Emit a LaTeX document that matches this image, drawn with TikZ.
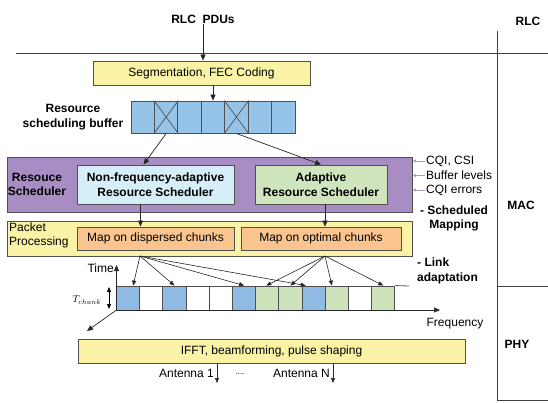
\documentclass[tikz,border=0pt]{standalone}
\usepackage{fontspec}
\setmainfont{Liberation Sans}
\usetikzlibrary{arrows.meta,calc}
\definecolor{edge}{RGB}{80,80,80}
\definecolor{yel}{RGB}{250,242,165}
\definecolor{bufblue}{RGB}{150,195,232}
\definecolor{purp}{RGB}{168,140,196}
\definecolor{ltblue}{RGB}{214,238,248}
\definecolor{ltgreen}{RGB}{208,228,190}
\definecolor{orng}{RGB}{250,196,142}
\definecolor{cb}{RGB}{142,186,228}
\definecolor{cg}{RGB}{206,226,188}
\definecolor{cqicol}{RGB}{175,155,195}
\begin{document}
\begin{tikzpicture}[x=1pt,y=-1pt,
  font=\fontsize{12}{14.5}\selectfont,
  box/.style={draw=edge, line width=0.9pt, inner sep=0pt, align=center},
  arr/.style={-{Triangle[length=6pt,width=5pt]}, line width=0.7pt, draw=black!85},
  thinarr/.style={-{Triangle[length=5pt,width=4pt]}, line width=0.6pt, draw=black!85},
  cqiarr/.style={-{Triangle[length=3.5pt,width=3pt]}, line width=0.6pt, draw=cqicol, fill=cqicol},
  rule/.style={line width=0.8pt, draw=black!75},
  lbl/.style={font=\fontsize{12}{14.5}\selectfont\bfseries, align=center, inner sep=1pt},
  plain/.style={inner sep=1pt}]
\useasboundingbox[fill=white] (0,0) rectangle (548,402);

% layer rules
\coordinate (h1a) at (16,53);
\coordinate (h1b) at (548,53);
\coordinate (v1) at (497,31);
\coordinate (v2) at (497,400);
\coordinate (h2a) at (497,286);
\coordinate (h2b) at (548,286);
\coordinate (h3a) at (497,400);
\coordinate (h3b) at (548,400);
\draw[rule] (h1a) -- (h1b);
\draw[rule] (v1) -- (v2);
\draw[rule] (h2a) -- (h2b);
\draw[rule] (h3a) -- (h3b);

\node[lbl] (rlc) at (528,21) {RLC};
\node[lbl] (mac) at (521,205) {MAC};
\node[lbl] (phy) at (517,344) {PHY};

% RLC PDUs and segmentation
\node[lbl] (pdu) at (203,19) {RLC\ \ PDUs};
\node[box, fill=yel, minimum width=217pt, minimum height=24pt] (seg) at (201.5,73) {Segmentation, FEC Coding};
\draw[arr] (pdu.south) -- (pdu.south |- seg.north);

% buffer
\foreach \i in {1,...,7}{
  \pgfmathsetmacro{\cx}{131+(\i-0.5)*23.43}
  \node[box, fill=bufblue, minimum width=23.43pt, minimum height=32pt] (b\i) at (\cx,117) {};
}
\foreach \i in {2,5}{
  \draw[line width=0.7pt, draw=edge] (b\i.north west) -- (b\i.south east);
  \draw[line width=0.7pt, draw=edge] (b\i.north east) -- (b\i.south west);
}
\draw[arr] (b4.north |- seg.south) -- (b4.north);
\node[lbl] (buflbl) at (73,117) {Resource\\scheduling buffer};

% resource scheduler
\node[box, fill=purp, minimum width=405pt, minimum height=55pt] (rs) at (209.5,184.5) {};
\node[lbl] (rslbl) at (37,184.5) {Resouce\\Scheduler};
\node[box, fill=ltblue, minimum width=157pt, minimum height=39pt, font=\fontsize{12}{14.5}\selectfont\bfseries] (nfa) at (155.5,184.5) {Non-frequency-adaptive\\Resource Scheduler};
\node[box, fill=ltgreen, minimum width=132pt, minimum height=39pt, font=\fontsize{12}{14.5}\selectfont\bfseries] (ars) at (321,184.5) {Adaptive\\Resource Scheduler};
\draw[arr] (b2.south) -- ([xshift=-12pt]nfa.north);
\draw[arr] (b5.south) -- (ars.north);

% CQI inputs
\node[plain, anchor=west] (cqi1) at (425,161) {CQI, CSI};
\node[plain, anchor=west] (cqi2) at (425,175.5) {Buffer levels};
\node[plain, anchor=west] (cqi3) at (425,190) {CQI errors};
\foreach \k in {1,2,3}{
  \draw[cqiarr] (cqi\k.west) -- (cqi\k.west -| rs.east);
}
\node[lbl] (sched) at (454,218.5) {- Scheduled\\Mapping};

% packet processing
\node[box, fill=yel, minimum width=405pt, minimum height=35pt] (pp) at (209.5,238.5) {};
\node[plain, anchor=west, align=left] (pplbl) at (8,235.5) {Packet\\Processing};
\node[box, fill=orng, minimum width=157pt, minimum height=23pt] (map1) at (155.5,238.5) {Map on dispersed chunks};
\node[box, fill=orng, minimum width=160pt, minimum height=23pt] (map2) at (321,238.5) {Map on optimal chunks};
\draw[arr] ([xshift=-15pt]nfa.south) -- ([xshift=-15pt]nfa.south |- map1.north);
\draw[arr] ([xshift=4pt]ars.south) -- ([xshift=4pt]ars.south |- map2.north);
\node[lbl, align=left, anchor=west] (link) at (416,271) {- Link\\adaptation};

% chunks
\foreach \i/\c in {1/cb,2/white,3/cb,4/white,5/white,6/cb,7/cg,8/cg,9/cb,10/cg,11/white,12/cg}{
  \pgfmathsetmacro{\cx}{116.5+(\i-0.5)*23.2}
  \node[box, fill=\c, minimum width=23.2pt, minimum height=24pt] (k\i) at (\cx,298) {};
}
\coordinate (tend) at (409,286);
\draw[line width=0.8pt, draw=edge] (k12.north east) -- (tend);

% axes
\coordinate (O) at (116.5,310);
\coordinate (ttop) at (116.5,265);
\coordinate (fend) at (440,310);
\coordinate (dend) at (87,331);
\draw[arr] (O) -- (ttop);
\draw[arr] (O) -- (fend);
\draw[arr] (O) -- (dend);
\node[plain, anchor=east] (time) at (115,268) {Time};
\node[plain] (freq) at (455,324) {Frequency};
\coordinate (tc1) at (109,287);
\coordinate (tc2) at (109,309);
\draw[{Triangle[length=5pt,width=4pt]}-{Triangle[length=5pt,width=4pt]}, line width=0.7pt] (tc1) -- (tc2);
\node[plain] (tch) at (87,300) {\fontsize{10}{10}\selectfont$T_{chunk}$};

% mapping arrows
\coordinate (s1) at (140,256);
\coordinate (s2) at (325,256);
\draw[thinarr] (s1) -- ([xshift=5pt]k1.north);
\draw[thinarr] (s1) -- (k3.north);
\draw[thinarr] (s1) -- (k6.north);
\draw[thinarr] (s1) -- ([xshift=-8pt]k9.north);
\draw[thinarr] (s2) -- ([xshift=-1pt]k7.north);
\draw[thinarr] (s2) -- (k8.north);
\draw[thinarr] (s2) -- ([xshift=-5pt]k10.north);
\draw[thinarr] (s2) -- (k12.north);

% IFFT
\node[box, fill=yel, minimum width=387pt, minimum height=24pt] (ifft) at (271.5,351) {IFFT, beamforming, pulse shaping};
\coordinate (a1) at (217,383);
\coordinate (aN) at (333,383);
\draw[thinarr] (ifft.south -| a1) -- (a1);
\draw[thinarr] (ifft.south -| aN) -- (aN);
\node[plain, anchor=east] (ant1) at (215,373) {Antenna 1};
\node[plain] (dots) at (240,374) {\fontsize{8}{8}\selectfont ....};
\node[plain, anchor=east] (antN) at (331,373) {Antenna N};
\end{tikzpicture}
\end{document}
